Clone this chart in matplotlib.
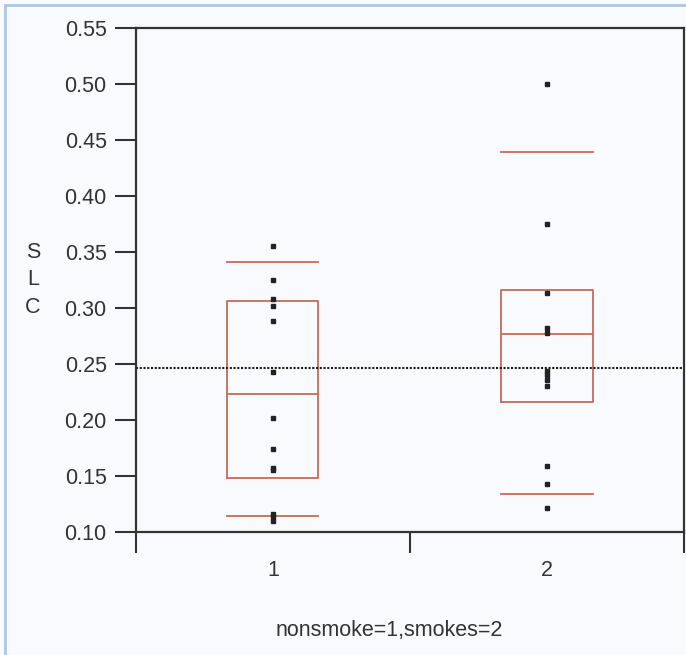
import numpy as np
import matplotlib.pyplot as plt
from matplotlib.patches import Rectangle

plt.rcParams['font.family'] = ['Liberation Sans', 'DejaVu Sans']

# box summaries
groups = [1, 2]
tick_labels = ['1', '2']
q1 = [0.148, 0.216]
med = [0.223, 0.277]
q3 = [0.306, 0.316]
whis_lo = [0.1145, 0.1336]
whis_hi = [0.3415, 0.4396]

# individual SLC values
nonsmoke = [0.355, 0.325, 0.308, 0.302, 0.288, 0.243, 0.202, 0.174,
            0.157, 0.155, 0.116, 0.113, 0.110]
smokes = [0.500, 0.375, 0.313, 0.282, 0.278, 0.244, 0.240, 0.236,
          0.230, 0.159, 0.143, 0.121]
grand_mean = 0.246

box_col = '#c46a5b'
fs = 15.5

fig = plt.figure(figsize=(6.86, 6.55), dpi=100, facecolor='#f9fafd')
ax = fig.add_axes([0.198, 0.188, 0.799, 0.769])
ax.set_facecolor('#f9fafd')

stats = []
for i in range(len(groups)):
    stats.append({'med': med[i], 'q1': q1[i], 'q3': q3[i],
                  'whislo': whis_lo[i], 'whishi': whis_hi[i], 'fliers': []})
ax.bxp(stats, positions=groups, widths=0.333, capwidths=0.333,
       showfliers=False,
       boxprops=dict(color=box_col, linewidth=1.3),
       medianprops=dict(color=box_col, linewidth=1.3),
       capprops=dict(color=box_col, linewidth=1.3),
       whiskerprops=dict(linestyle='none'))

ax.plot([1] * len(nonsmoke), nonsmoke, 's', color='#222222', markersize=3.5, zorder=3)
ax.plot([2] * len(smokes), smokes, 's', color='#222222', markersize=3.5, zorder=3)

ax.axhline(grand_mean, color='#1a1a1a', linestyle=(0, (1, 0.8)), linewidth=1.5, zorder=2)

ax.set_xlim(0.5, 2.5)
ax.set_ylim(0.10, 0.55)
ax.set_yticks(np.arange(0.10, 0.551, 0.05))
ax.set_yticklabels(['%.2f' % v for v in np.arange(0.10, 0.551, 0.05)], fontsize=fs, color='#333333')
ax.set_xticks([0.5, 1.5, 2.5])
ax.set_xticklabels(['', '', ''])
ax.set_xticks(groups, minor=True)
ax.set_xticklabels(tick_labels, minor=True, fontsize=fs, color='#333333')
ax.tick_params(axis='x', which='minor', length=0, pad=20)
ax.tick_params(axis='both', which='major', direction='out', length=15, width=1.5, color='#333333')
ax.tick_params(axis='y', pad=6)

for s in ax.spines.values():
    s.set_linewidth(1.6)
    s.set_color('#333333')

fig.text(0.048, 0.573, 'S\nL\nC', fontsize=fs, color='#333333', ha='center', va='center',
         linespacing=1.4)
fig.text(0.567, 0.038, 'nonsmoke=1,smokes=2', fontsize=fs, color='#333333', ha='center', va='center')

# light blue frame round the chart
fig.add_artist(Rectangle((0.007, -0.05), 1.2, 1.042, transform=fig.transFigure,
                         fill=False, edgecolor='#a9c8e4', linewidth=2))

fig.savefig('out.png', dpi=100, facecolor=fig.get_facecolor())
